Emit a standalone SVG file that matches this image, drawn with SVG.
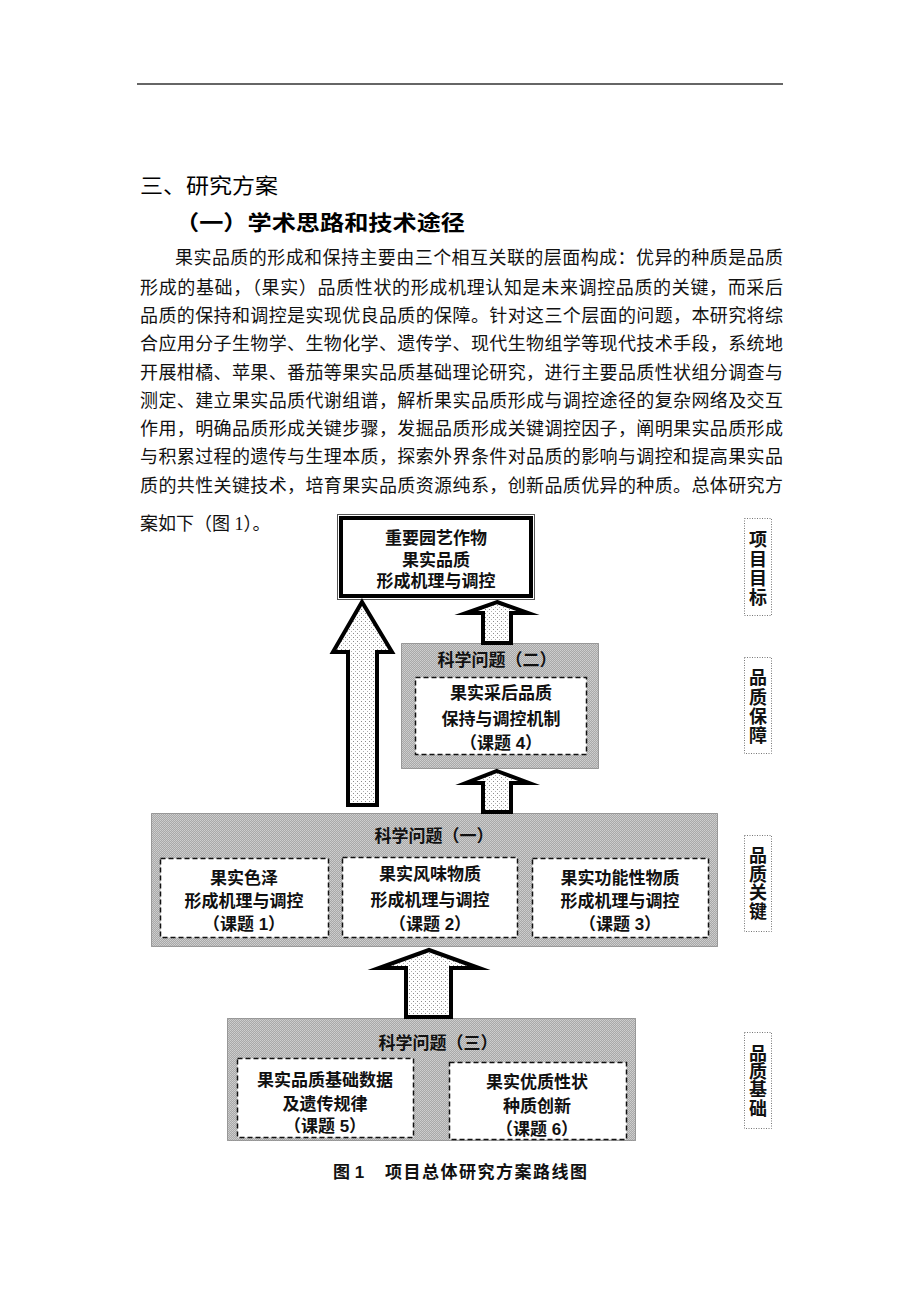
<svg xmlns="http://www.w3.org/2000/svg" width="920" height="1302" viewBox="0 0 920 1302">
<defs>
<pattern id="greyTex" width="2" height="2" patternUnits="userSpaceOnUse">
<rect width="2" height="2" fill="#a9a9a9"/>
<rect x="0" y="0" width="1" height="1" fill="#cfcfcf"/>
<rect x="1" y="1" width="1" height="1" fill="#c8c8c8"/>
</pattern>
<pattern id="dotTex" width="4" height="4" patternUnits="userSpaceOnUse">
<rect width="4" height="4" fill="#ffffff"/>
<rect x="1" y="1" width="1" height="1" fill="#8a8a8a"/>
<rect x="3" y="3" width="1" height="1" fill="#b0b0b0"/>
</pattern>
<style>
.body{font-family:"Liberation Serif","Noto Sans CJK SC",serif;font-size:18px;fill:#111}
.h1{font-family:"Liberation Sans","Noto Sans CJK SC",sans-serif;font-size:21px;fill:#000}
.h2{font-family:"Liberation Sans","Noto Sans CJK SC",sans-serif;font-size:21px;font-weight:bold;fill:#000}
.t{font-family:"Liberation Sans","Noto Sans CJK SC",sans-serif;font-size:17px;font-weight:bold;fill:#111;text-anchor:middle}
.side{font-family:"Liberation Sans","Noto Sans CJK SC",sans-serif;font-size:18px;font-weight:bold;fill:#111;text-anchor:middle}
.grey{fill:url(#greyTex);stroke:#555;stroke-width:1;stroke-dasharray:1 1}
.sub{fill:#fff;stroke:#111;stroke-width:1.5;stroke-dasharray:5 3}
.sidebox{fill:none;stroke:#777;stroke-width:1;stroke-dasharray:1 1.5}
.arrow{fill:url(#dotTex);stroke:#000;stroke-width:4;stroke-linejoin:miter;stroke-miterlimit:10}
</style>
</defs>
<rect width="920" height="1302" fill="#fff"/>
<line x1="137" y1="84" x2="783" y2="84" stroke="#333" stroke-width="1.5"/>

<g id="text">
<text class="h1" x="140" y="193" textLength="138" lengthAdjust="spacingAndGlyphs">三、研究方案</text>
<text class="h2" x="175" y="230" textLength="290" lengthAdjust="spacingAndGlyphs">（一）学术思路和技术途径</text>
<text class="body" x="175" y="264" textLength="608" lengthAdjust="spacing">果实品质的形成和保持主要由三个相互关联的层面构成：优异的种质是品质</text>
<text class="body" x="140" y="294" textLength="643" lengthAdjust="spacing">形成的基础，（果实）品质性状的形成机理认知是未来调控品质的关键，而采后</text>
<text class="body" x="140" y="322" textLength="643" lengthAdjust="spacing">品质的保持和调控是实现优良品质的保障。针对这三个层面的问题，本研究将综</text>
<text class="body" x="140" y="350" textLength="643" lengthAdjust="spacing">合应用分子生物学、生物化学、遗传学、现代生物组学等现代技术手段，系统地</text>
<text class="body" x="140" y="379" textLength="643" lengthAdjust="spacing">开展柑橘、苹果、番茄等果实品质基础理论研究，进行主要品质性状组分调查与</text>
<text class="body" x="140" y="407" textLength="643" lengthAdjust="spacing">测定、建立果实品质代谢组谱，解析果实品质形成与调控途径的复杂网络及交互</text>
<text class="body" x="140" y="435" textLength="643" lengthAdjust="spacing">作用，明确品质形成关键步骤，发掘品质形成关键调控因子，阐明果实品质形成</text>
<text class="body" x="140" y="463" textLength="643" lengthAdjust="spacing">与积累过程的遗传与生理本质，探索外界条件对品质的影响与调控和提高果实品</text>
<text class="body" x="140" y="492" textLength="643" lengthAdjust="spacing">质的共性关键技术，培育果实品质资源纯系，创新品质优异的种质。总体研究方</text>
<text class="body" x="140" y="530">案如下（图 1）。</text>
</g>

<g id="q2-box">
<rect class="grey" x="401.5" y="643.5" width="197" height="125"/>
<text class="t" x="497" y="666">科学问题（二）</text>
</g>
<g id="topic4">
<rect class="sub" x="415.5" y="677.5" width="171" height="77"/>
<text class="t" x="501" y="699">果实采后品质</text>
<text class="t" x="501" y="725">保持与调控机制</text>
<text class="t" x="501" y="749">（课题 4）</text>
</g>

<g id="q1-box">
<rect class="grey" x="151.5" y="813.5" width="566" height="133"/>
<text class="t" x="434" y="842">科学问题（一）</text>
</g>
<g id="topic1">
<rect class="sub" x="160.5" y="858.5" width="168" height="79"/>
<text class="t" x="244" y="884">果实色泽</text>
<text class="t" x="244" y="907">形成机理与调控</text>
<text class="t" x="244" y="930">（课题 1）</text>
</g>
<g id="topic2">
<rect class="sub" x="342.5" y="857.5" width="175" height="80"/>
<text class="t" x="430" y="880">果实风味物质</text>
<text class="t" x="430" y="906">形成机理与调控</text>
<text class="t" x="430" y="930">（课题 2）</text>
</g>
<g id="topic3">
<rect class="sub" x="532.5" y="858.5" width="176" height="79"/>
<text class="t" x="620" y="884">果实功能性物质</text>
<text class="t" x="620" y="907">形成机理与调控</text>
<text class="t" x="620" y="930">（课题 3）</text>
</g>

<g id="q3-box">
<rect class="grey" x="227.5" y="1018.5" width="408" height="122"/>
<text class="t" x="438" y="1049">科学问题（三）</text>
</g>
<g id="topic5">
<rect class="sub" x="237.5" y="1058.5" width="176" height="79"/>
<text class="t" x="325" y="1086">果实品质基础数据</text>
<text class="t" x="325" y="1110">及遗传规律</text>
<text class="t" x="325" y="1132">（课题 5）</text>
</g>
<g id="topic6">
<rect class="sub" x="449.5" y="1062.5" width="177" height="77"/>
<text class="t" x="537" y="1088">果实优质性状</text>
<text class="t" x="537" y="1112">种质创新</text>
<text class="t" x="537" y="1135">（课题 6）</text>
</g>

<g id="goal">
<rect x="337.5" y="514.5" width="197" height="85" fill="#fff" stroke="#555" stroke-width="1"/>
<rect x="341" y="518" width="190" height="78" fill="none" stroke="#000" stroke-width="4"/>
<text class="t" x="436" y="544">重要园艺作物</text>
<text class="t" x="436" y="566">果实品质</text>
<text class="t" x="436" y="587">形成机理与调控</text>
</g>

<g id="connectors">
<polygon class="arrow" points="362,602 392,652 377,652 377,805 348,805 348,652 333,652"/>
<polygon class="arrow" points="497,602 528,613 511,613 511,643 483,643 483,613 466,613"/>
<polygon class="arrow" points="497,771 529,783 511,783 511,812 483,812 483,783 466,783"/>
<polygon class="arrow" points="429,950 479,968 451,968 451,1017 406,1017 406,968 379,968"/>
</g>

<g id="side-goal">
<rect class="sidebox" x="744.5" y="518.5" width="27" height="97"/>
<text class="side" x="758" y="546">项</text>
<text class="side" x="758" y="566">目</text>
<text class="side" x="758" y="585">目</text>
<text class="side" x="758" y="604">标</text>
</g>
<g id="side-guarantee">
<rect class="sidebox" x="744.5" y="657.5" width="27" height="96"/>
<text class="side" x="758" y="684">品</text>
<text class="side" x="758" y="704">质</text>
<text class="side" x="758" y="723">保</text>
<text class="side" x="758" y="742">障</text>
</g>
<g id="side-key">
<rect class="sidebox" x="744.5" y="835.5" width="27" height="96"/>
<text class="side" x="758" y="862">品</text>
<text class="side" x="758" y="881">质</text>
<text class="side" x="758" y="899">关</text>
<text class="side" x="758" y="918">键</text>
</g>
<g id="side-base">
<rect class="sidebox" x="744.5" y="1032.5" width="27" height="96"/>
<text class="side" x="758" y="1060">品</text>
<text class="side" x="758" y="1078">质</text>
<text class="side" x="758" y="1096">基</text>
<text class="side" x="758" y="1115">础</text>
</g>

<g id="caption">
<text class="t" x="333" y="1178" style="text-anchor:start">图 1</text>
<text class="t" x="385" y="1178" style="text-anchor:start" textLength="202" lengthAdjust="spacing">项目总体研究方案路线图</text>
</g>
</svg>
